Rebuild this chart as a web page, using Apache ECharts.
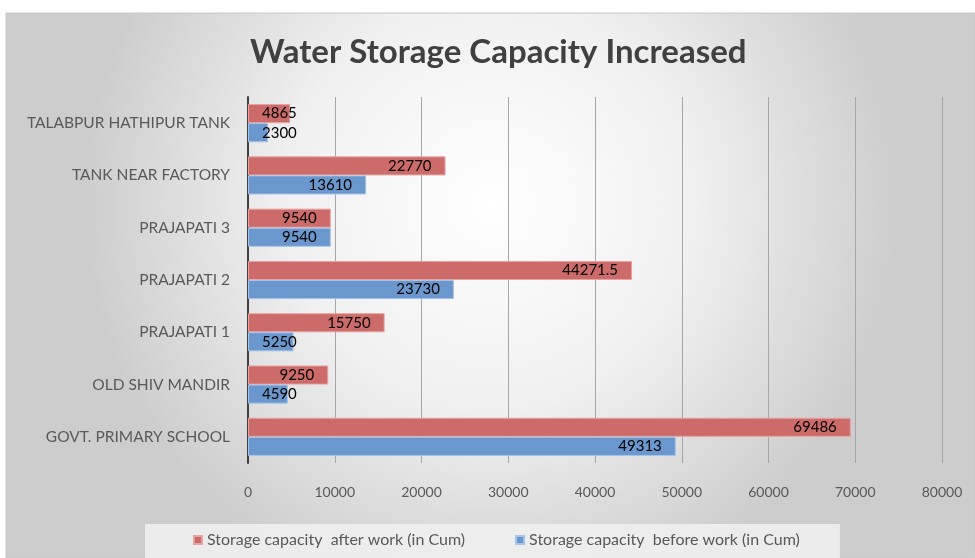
<!DOCTYPE html>
<html>
<head>
<meta charset="utf-8">
<script src="https://cdn.jsdelivr.net/npm/echarts@6/dist/echarts.min.js"></script>
<style>html,body{margin:0;padding:0;background:#fff}#c{width:975px;height:558px}</style>
</head>
<body>
<div id="c"></div>
<script>
const categories = ['TALABPUR HATHIPUR TANK','TANK NEAR FACTORY','PRAJAPATI 3','PRAJAPATI 2','PRAJAPATI 1','OLD SHIV MANDIR','GOVT. PRIMARY SCHOOL'];
const afterWork = [4865, 22770, 9540, 44271.5, 15750, 9250, 69486];
const beforeWork = [2300, 13610, 9540, 23730, 5250, 4590, 49313];
const seriesNames = ['Storage capacity  after work (in Cum)', 'Storage capacity  before work (in Cum)'];
const chartTitle = 'Water Storage Capacity Increased';

const FONT = 'Lato';
function labelFor(v){
  if (v < 6000) return { show:true, position:'insideLeft', distance:14 };
  return { show:true, position:'insideRight', distance:14 };
}
function mk(arr){ return arr.map(v => ({ value:v, label: labelFor(v) })); }

const chart = echarts.init(document.getElementById('c'), null, {renderer:'canvas'});
chart.setOption({
  backgroundColor:'#fff',
  animation:false,
  graphic:[{
    type:'rect', z:-10, silent:true,
    shape:{x:6,y:13,width:969,height:545},
    style:{
      fill:new echarts.graphic.RadialGradient(0.5,0.35,0.75,[
        {offset:0,color:'#ffffff'},{offset:0.5,color:'#f0f0f0'},{offset:1,color:'#cdcdcd'}
      ]),
      stroke:'#c8c8c8', lineWidth:1
    }
  }],
  title:{
    text:chartTitle, left:245, top:31,
    textStyle:{fontFamily:FONT, fontSize:33, fontWeight:'bold', color:'#404040'}
  },
  legend:{
    left:145, top:524,
    padding:[8,40,12,48],
    backgroundColor:'rgba(240,240,240,0.9)',
    itemWidth:8, itemHeight:8, itemGap:50,
    icon:'rect',
    textStyle:{fontFamily:FONT, fontSize:16, color:'#595959'},
    data:seriesNames
  },
  grid:{left:248, right:33, top:97, bottom:95, containLabel:false},
  xAxis:{
    type:'value', min:0, max:80000, interval:10000,
    axisLine:{show:false}, axisTick:{show:false},
    axisLabel:{fontFamily:FONT, fontSize:14, color:'#595959', margin:22, formatter:v => String(v)},
    splitLine:{show:true, lineStyle:{color:'#a6a6a6', width:1}}
  },
  yAxis:{
    type:'category', inverse:true, data:categories,
    axisLine:{show:true, lineStyle:{color:'#404040', width:2}},
    axisTick:{show:false},
    axisLabel:{fontFamily:FONT, fontSize:15.5, color:'#595959', margin:18}
  },
  series:[
    {name:seriesNames[0], type:'bar', data:mk(afterWork), barGap:'0%', barCategoryGap:'27%',
     itemStyle:{color:'#cd6b6a', borderColor:'#e6a3a2', borderWidth:1},
     label:{fontFamily:FONT, fontSize:15, color:'#000'}},
    {name:seriesNames[1], type:'bar', data:mk(beforeWork), barGap:'0%', barCategoryGap:'27%',
     itemStyle:{color:'#6a97cd', borderColor:'#a6c3e6', borderWidth:1},
     label:{fontFamily:FONT, fontSize:15, color:'#000'}}
  ]
});
</script>
</body>
</html>
